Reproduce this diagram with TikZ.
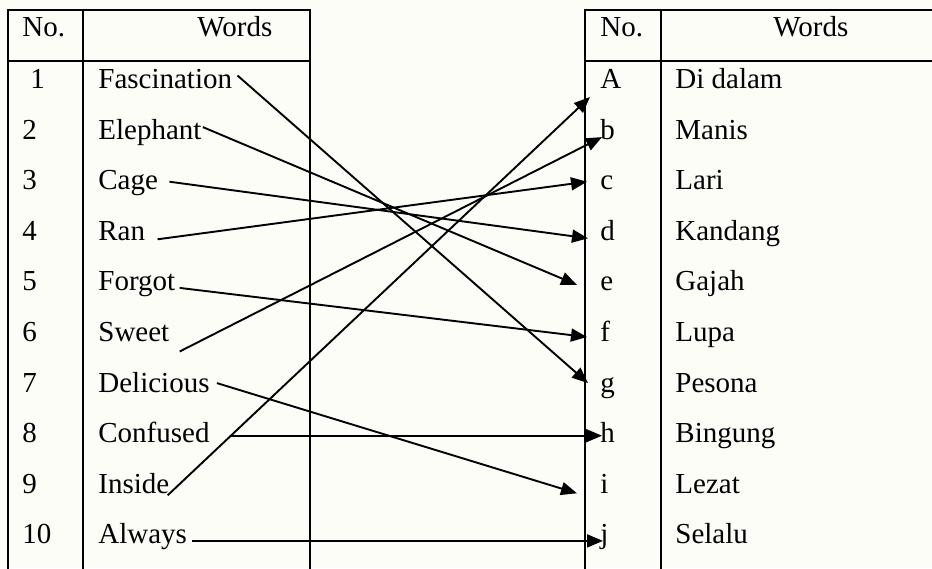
\documentclass[tikz,border=0pt]{standalone}
\usepackage{fontspec}
\setmainfont{Liberation Serif}
\usetikzlibrary{arrows.meta}
\definecolor{paper}{RGB}{252,253,247}

\begin{document}
\begin{tikzpicture}[
	x = 0.5pt, y = -0.5pt,
	> = {Triangle[length=8pt,width=6.5pt]},
	every node/.style = {anchor=base west, inner sep=0pt, font=\fontsize{14.5}{17}\selectfont},
	grid/.style = {line width=1.1pt, line cap=rect},
	link/.style = {->, line width=0.95pt}
	]
	\fill[paper] (0,0) rectangle (932,568);
	\useasboundingbox (0,0) rectangle (932,568);
	% left table
	\draw[grid] (8,10) -- (8,568) (83,10) -- (83,568) (310,10) -- (310,568)
		(8,10) -- (310,10) (8,61) -- (310,61);
	% right table
	\draw[grid] (585,10) -- (585,568) (661,10) -- (661,568)
		(585,10) -- (932,10) (585,61) -- (932,61);
	\node (hn) at (22,36) {No.};
	\node (hw) at (197,36) {Words};
	\node (hl) at (600,36) {No.};
	\node (hm) at (773,36) {Words};
	% english words
	\node (n1) at (30,88.5) {1};   \node (w1) at (98,88.5) {Fascination};
	\node (n2) at (22,139.1) {2};  \node (w2) at (98,139.1) {Elephant};
	\node (n3) at (22,189.7) {3};  \node (w3) at (98,189.7) {Cage};
	\node (n4) at (22,240.3) {4};  \node (w4) at (98,240.3) {Ran};
	\node (n5) at (22,290.9) {5};  \node (w5) at (98,290.9) {Forgot};
	\node (n6) at (22,341.5) {6};  \node (w6) at (98,341.5) {Sweet};
	\node (n7) at (22,392.1) {7};  \node (w7) at (98,392.1) {Delicious};
	\node (n8) at (22,442.7) {8};  \node (w8) at (98,442.7) {Confused};
	\node (n9) at (22,493.3) {9};  \node (w9) at (98,493.3) {Inside};
	\node (n10) at (22,543.9) {10}; \node (w10) at (98,543.9) {Always};
	% indonesian words
	\node (l1) at (600,88.5) {A};   \node (m1) at (675,88.5) {Di dalam};
	\node (l2) at (600,139.1) {b};  \node (m2) at (675,139.1) {Manis};
	\node (l3) at (600,189.7) {c};  \node (m3) at (675,189.7) {Lari};
	\node (l4) at (600,240.3) {d};  \node (m4) at (675,240.3) {Kandang};
	\node (l5) at (600,290.9) {e};  \node (m5) at (675,290.9) {Gajah};
	\node (l6) at (600,341.5) {f};  \node (m6) at (675,341.5) {Lupa};
	\node (l7) at (600,392.1) {g};  \node (m7) at (675,392.1) {Pesona};
	\node (l8) at (600,442.7) {h};  \node (m8) at (675,442.7) {Bingung};
	\node (l9) at (600,493.3) {i};  \node (m9) at (675,493.3) {Lezat};
	\node (l10) at (600,543.9) {j}; \node (m10) at (675,543.9) {Selalu};
	% matching
	\draw[link] ([shift={(5,-13)}]w1.base east) -- ([shift={(-12,-9)}]l7.base west);
	\draw[link] ([shift={(1,-12)}]w2.base east) -- ([shift={(-23,-6)}]l5.base west);
	\draw[link] ([shift={(11,-8)}]w3.base east) -- ([shift={(-12,-2)}]l4.base west);
	\draw[link] ([shift={(12,-1)}]w4.base east) -- ([shift={(-13,-8)}]l3.base west);
	\draw[link] ([shift={(4,-3)}]w5.base east) -- ([shift={(-13,-4.5)}]l6.base west);
	\draw[link] ([shift={(10,10)}]w6.base east) -- ([shift={(2,-2)}]l2.base west);
	\draw[link] ([shift={(7,-9)}]w7.base east) -- ([shift={(-23,0)}]l9.base west);
	\draw[link] ([shift={(20,-7)}]w8.base east) -- ([shift={(2,-7)}]l8.base west);
	\draw[link] ([shift={(-2,2)}]w9.base east) -- ([shift={(-10,8.5)}]l1.base west);
	\draw[link] ([shift={(5,-3)}]w10.base east) -- ([shift={(3,-3)}]l10.base west);
\end{tikzpicture}
\end{document}
